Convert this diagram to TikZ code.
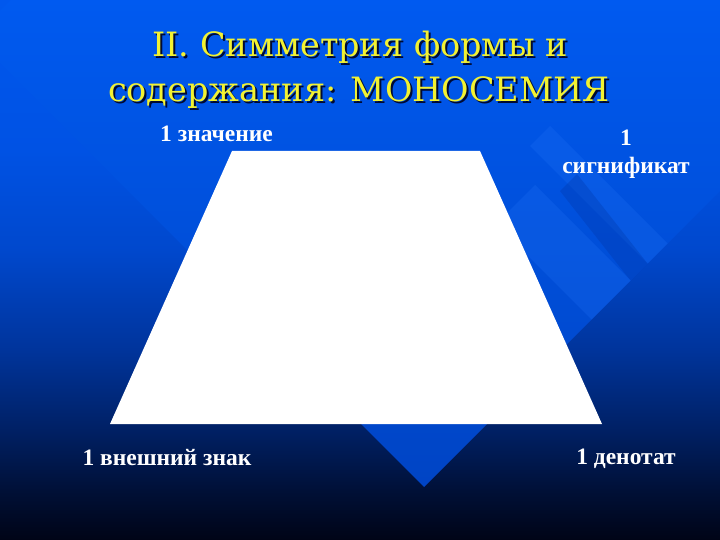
\documentclass[tikz,border=0pt]{standalone}
\usepackage{fontspec}
\setmainfont{Liberation Serif}
\newfontfamily\titlefont{DejaVu Serif}
\definecolor{bgA}{RGB}{0,88,238}
\definecolor{bgB}{RGB}{0,82,228}
\definecolor{bgC}{RGB}{0,72,205}
\definecolor{bgD}{RGB}{0,52,155}
\definecolor{bgE}{RGB}{0,32,100}
\definecolor{bgF}{RGB}{0,16,55}
\definecolor{bgG}{RGB}{0,4,22}
\definecolor{dmA}{RGB}{0,90,240}
\definecolor{dmB}{RGB}{0,68,196}
\definecolor{barlight}{RGB}{40,120,250}
\definecolor{bardark}{RGB}{0,50,160}
\definecolor{titleyellow}{RGB}{242,242,50}
\definecolor{titleshadow}{RGB}{0,10,50}
\newcommand\myshadowed[1]{\rlap{\kern2pt\raisebox{-2pt}{\textcolor{titleshadow}{#1}}}#1}
\begin{document}
\begin{tikzpicture}[x=1pt,y=-1pt,
  lbl/.style={text=white, font=\fontsize{23.5}{28}\selectfont\bfseries, inner sep=0pt, anchor=base},
  ttl/.style={text=titleyellow, font=\titlefont\fontsize{33.5}{40}\selectfont, inner sep=0pt, anchor=base}]
\useasboundingbox (0,0) rectangle (720,540);
% background gradient
\shade[top color=bgA, bottom color=bgB] (-1,-1) rectangle (721,150.5);
\shade[top color=bgB, bottom color=bgC] (-1,150) rectangle (721,250.5);
\shade[top color=bgC, bottom color=bgD] (-1,250) rectangle (721,350.5);
\shade[top color=bgD, bottom color=bgE] (-1,350) rectangle (721,430.5);
\shade[top color=bgE, bottom color=bgF] (-1,430) rectangle (721,490.5);
\shade[top color=bgF, bottom color=bgG] (-1,490) rectangle (721,541);
% large diamond
\begin{scope}
  \clip (424,487) -- (824,87) -- (374,-363) -- (-26,37) -- cycle;
  \shade[top color=dmA, bottom color=dmB] (-1,-1) rectangle (721,488);
\end{scope}
% diagonal bars on the right
\fill[barlight, opacity=0.22] (530,146) -- (550,126) -- (667.5,243.5) -- (647.5,263.5) -- cycle;
\fill[bardark, opacity=0.28] (560,191) -- (577,174) -- (647.5,263.5) -- (630.5,280.5) -- cycle;
\fill[barlight, opacity=0.22] (496,224) -- (535,185) -- (630.5,280.5) -- (591.5,319.5) -- cycle;
% trapezoid
\fill[white] (232,151) -- (480,151) -- (602,424) -- (110,424) -- cycle;
% title
\node[ttl] (t1) at (360,57) {\myshadowed{II. Симметрия формы и}};
\node[ttl] (t2) at (359,102) {\myshadowed{содержания: МОНОСЕМИЯ}};
% labels
\node[lbl] (meaning) at (216.5,142) {1 значение};
\node[lbl] (sig1) at (626,146) {1};
\node[lbl] (sig2) at (626,174) {сигнификат};
\node[lbl] (sign) at (167,465) {1 внешний знак};
\node[lbl] (denot) at (626,464) {1 денотат};
\end{tikzpicture}
\end{document}
